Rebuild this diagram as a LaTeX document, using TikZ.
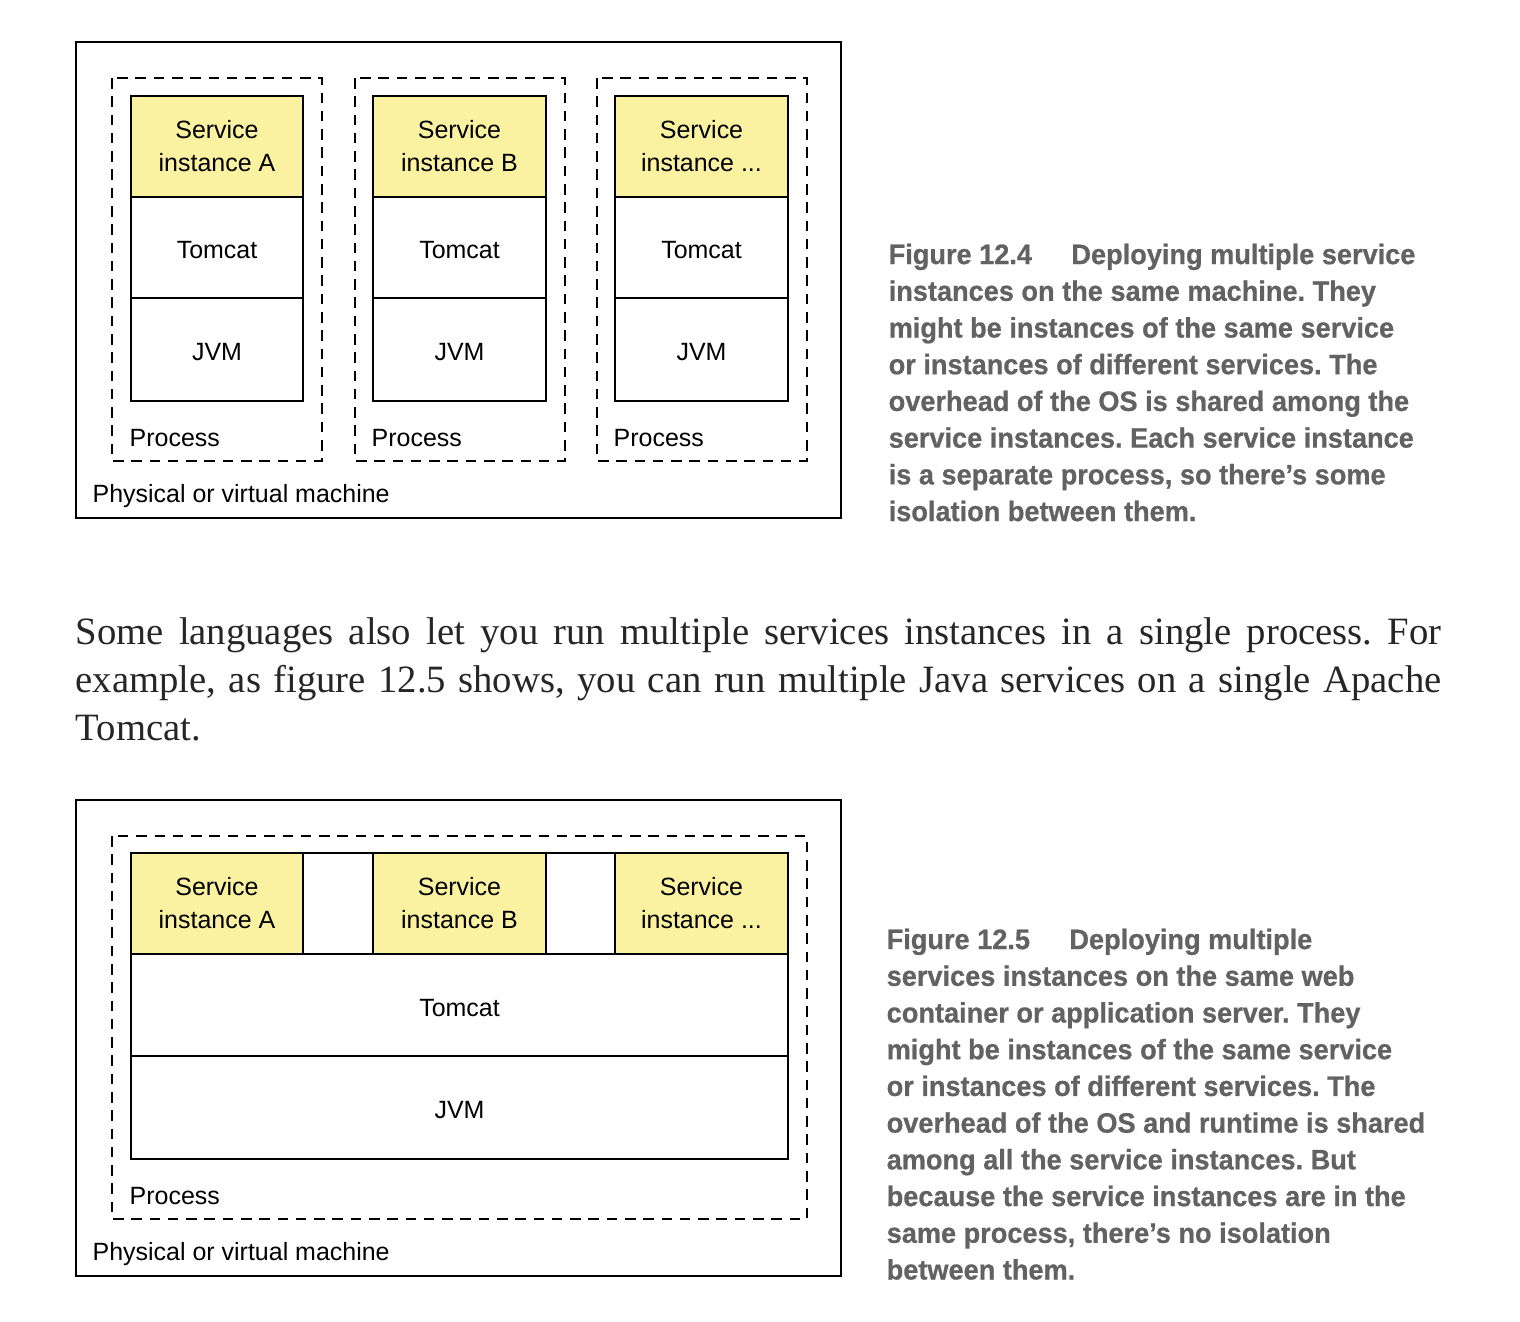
\documentclass[tikz,border=0pt]{standalone}
\usepackage{fontspec}
\setmainfont{Liberation Serif}
\newfontfamily\diagfont{Liberation Sans}
\newfontfamily\capfont{Liberation Sans}[FakeStretch=0.965, BoldFeatures={FakeBold=0.7}]
\definecolor{svcyellow}{RGB}{250,242,160}
\definecolor{capgray}{RGB}{98,98,98}
\frenchspacing

\begin{document}
\begin{tikzpicture}[x=0.01cm, y=-0.01cm,
  box/.style={line width=0.6pt},
  svc/.style={box, fill=svcyellow},
  proc/.style={line width=0.6pt, dash pattern=on 3pt off 2.2pt},
  lbl/.style={font=\diagfont\fontsize{7.1}{9.4}\selectfont, align=center, inner sep=0pt},
  lbldown/.style={lbl, yshift=-0.8pt},
  capnote/.style={font=\capfont\bfseries\fontsize{8}{10.44}\selectfont, text=capgray, align=left, anchor=north west, inner sep=0pt}]

  \useasboundingbox (0,0) rectangle (1520,1322);

  \draw[box] (76,42) rectangle (841,518);
  \node[lbl, anchor=west] (machineA) at (92,496) {Physical or virtual machine};

  \draw[proc] (112,78) rectangle (322,461);
  \draw[svc] (131,96) rectangle (303,197) node[lbl, pos=.5] (svcA) {Service\\instance A};
  \draw[box] (131,197) rectangle (303,298) node[lbldown, pos=.5] (tomcatA) {Tomcat};
  \draw[box] (131,298) rectangle (303,401) node[lbldown, pos=.5] (jvmA) {JVM};
  \node[lbl, anchor=west] (procA) at (129,438) {Process};

  \draw[proc] (355,78) rectangle (565,461);
  \draw[svc] (373,96) rectangle (546,197) node[lbl, pos=.5] (svcB) {Service\\instance B};
  \draw[box] (373,197) rectangle (546,298) node[lbldown, pos=.5] (tomcatB) {Tomcat};
  \draw[box] (373,298) rectangle (546,401) node[lbldown, pos=.5] (jvmB) {JVM};
  \node[lbl, anchor=west] (procB) at (371,438) {Process};

  \draw[proc] (597,78) rectangle (807,461);
  \draw[svc] (615,96) rectangle (788,197) node[lbl, pos=.5] (svcC) {Service\\instance ...};
  \draw[box] (615,197) rectangle (788,298) node[lbldown, pos=.5] (tomcatC) {Tomcat};
  \draw[box] (615,298) rectangle (788,401) node[lbldown, pos=.5] (jvmC) {JVM};
  \node[lbl, anchor=west] (procC) at (613,438) {Process};

  \node[capnote] (capA) at (888,243) {Figure 12.4\hspace{1.4em}Deploying multiple service\\
    instances on the same machine. They\\
    might be instances of the same service\\
    or instances of different services. The\\
    overhead of the OS is shared among the\\
    service instances. Each service instance\\
    is a separate process, so there’s some\\
    isolation between them.};

  \node[font=\fontsize{11}{13.66}\selectfont, text=black!85, align=left, anchor=north west, inner sep=0pt] (para) at (75,617)
    {\makebox[13.65cm][s]{Some languages also let you run multiple services instances in a single process. For}\\
     \makebox[13.65cm][s]{example, as figure 12.5 shows, you can run multiple Java services on a single Apache}\\
     Tomcat.};

  \draw[box] (76,800) rectangle (841,1276);
  \node[lbl, anchor=west] (machineB) at (92,1254) {Physical or virtual machine};

  \draw[proc] (112,836) rectangle (807,1219);
  \draw[svc] (131,853) rectangle (303,954) node[lbl, pos=.5] (svcD) {Service\\instance A};
  \draw[box] (303,853) rectangle (373,954);
  \draw[svc] (373,853) rectangle (546,954) node[lbl, pos=.5] (svcE) {Service\\instance B};
  \draw[box] (546,853) rectangle (615,954);
  \draw[svc] (615,853) rectangle (788,954) node[lbl, pos=.5] (svcF) {Service\\instance ...};
  \draw[box] (131,954) rectangle (788,1056) node[lbldown, pos=.5] (tomcatD) {Tomcat};
  \draw[box] (131,1056) rectangle (788,1159) node[lbldown, pos=.5] (jvmD) {JVM};
  \node[lbl, anchor=west] (procD) at (129,1196) {Process};

  \node[capnote] (capB) at (886,928) {Figure 12.5\hspace{1.4em}Deploying multiple\\
    services instances on the same web\\
    container or application server. They\\
    might be instances of the same service\\
    or instances of different services. The\\
    overhead of the OS and runtime is shared\\
    among all the service instances. But\\
    because the service instances are in the\\
    same process, there’s no isolation\\
    between them.};

\end{tikzpicture}
\end{document}
